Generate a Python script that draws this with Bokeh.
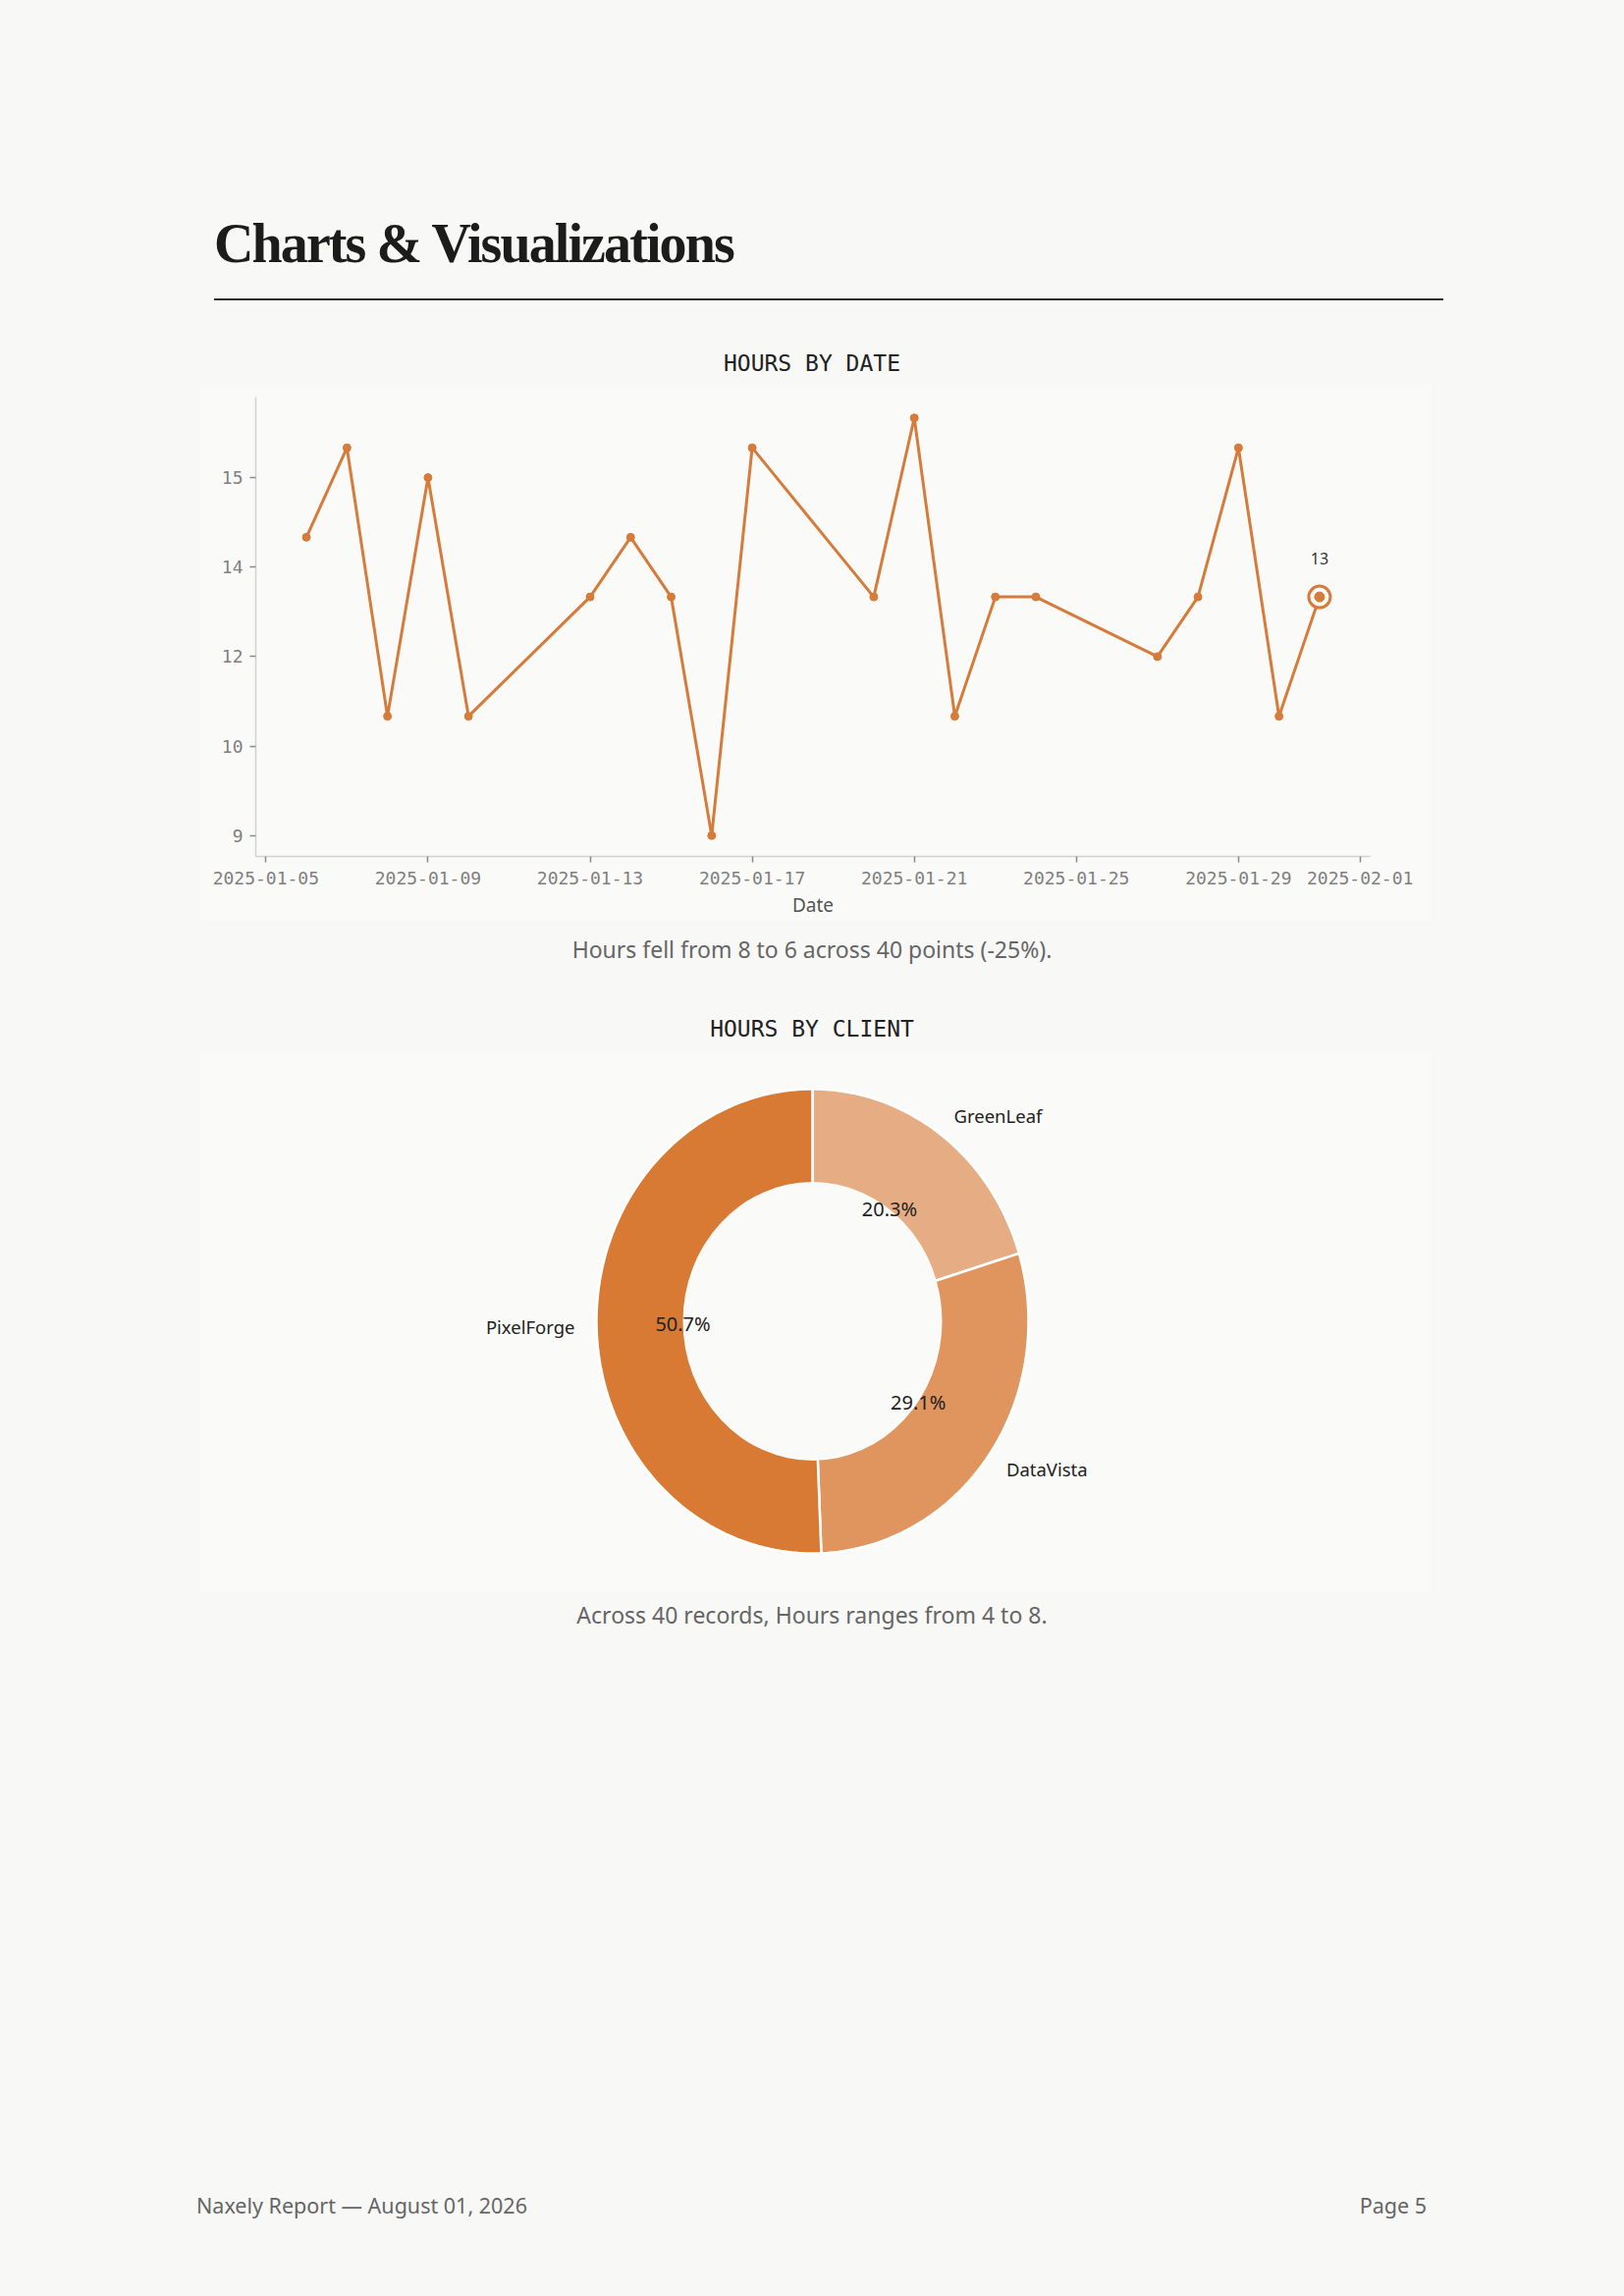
import numpy as np
import pandas as pd
from bokeh.plotting import figure
from bokeh.models import (Div, Spacer, FixedTicker, DatetimeTickFormatter, Range1d,
                          Label, ColumnDataSource)
from bokeh.layouts import column, row
from bokeh.embed import file_html
from bokeh.resources import INLINE
from bokeh.core.properties import value

# ---------------- data ----------------
dates = ["2025-01-06", "2025-01-07", "2025-01-08", "2025-01-09", "2025-01-10",
         "2025-01-13", "2025-01-14", "2025-01-15", "2025-01-16", "2025-01-17",
         "2025-01-20", "2025-01-21", "2025-01-22", "2025-01-23", "2025-01-24",
         "2025-01-27", "2025-01-28", "2025-01-29", "2025-01-30", "2025-01-31"]
hours = [14, 15.5, 11, 15, 11, 13, 14, 13, 9, 15.5,
         13, 16, 11, 13, 13, 12, 13, 15.5, 11, 13]
x_tick_dates = ["2025-01-05", "2025-01-09", "2025-01-13", "2025-01-17",
                "2025-01-21", "2025-01-25", "2025-01-29", "2025-02-01"]
y_ticks = [9, 10.5, 12, 13.5, 15]
y_tick_labels = ["9", "10", "12", "14", "15"]

clients = ["GreenLeaf", "DataVista", "PixelForge"]
client_share = [20.3, 29.1, 50.7]

page_title = "Charts &amp; Visualizations"
line_title = "HOURS BY DATE"
line_caption = "Hours fell from 8 to 6 across 40 points (-25%)."
donut_title = "HOURS BY CLIENT"
donut_caption = "Across 40 records, Hours ranges from 4 to 8."
footer_left = "Naxely Report — August 01, 2026"
footer_right = "Page 5"

# ---------------- style ----------------
PAGE = "#f8f8f6"
PANEL = "#fafaf8"
LINE = "#d67b3a"
client_colors = ["#e6ad84", "#e0955e", "#d97a34"]
SANS = "Noto Sans"
MONO = "DejaVu Sans Mono"
SERIF = "Liberation Serif"

W = 1646
CX = 827  # horizontal centre of the page


def block(txt, top, size, font, color, lh=30, left=None, right=None, center=False,
          extra=""):
    if center:
        pos = f"left:{CX - 500}px;width:1000px;text-align:center;"
    elif right is not None:
        pos = f"right:{right}px;text-align:right;"
    else:
        pos = f"left:{left}px;"
    return (f'<div style="position:absolute;{pos}top:{top}px;font-family:\'{font}\';'
            f'font-size:{size}px;line-height:{lh}px;color:{color};white-space:nowrap;{extra}">'
            f'{txt}</div>')


def wrap(h, inner):
    return f'<div style="position:relative;width:{W}px;height:{h}px;">{inner}</div>'


def mkdiv(h, inner):
    return Div(width=W, height=h, margin=0, text=wrap(h, inner),
               styles={"padding": "0", "margin": "0"})


# ---------------- header ----------------
h1 = 391
header = mkdiv(h1,
    block(page_title, 220, 56, SERIF, "#1c1c1c", lh=56, left=218,
          extra="font-weight:bold;letter-spacing:-1.9px;")
    + '<div style="position:absolute;left:218px;top:304px;width:1252px;height:2px;background:#2e2e2e;"></div>'
    + block(line_title, 355, 23, MONO, "#222222", center=True))

# ---------------- line chart ----------------
dt = pd.to_datetime(dates)
xpad = (dt.max() - dt.min()) * 0.05
ymin, ymax = min(hours), max(hours)
ypad = (ymax - ymin) * 0.05

LH = 546
src = ColumnDataSource(dict(date=dt, hours=hours))
p1 = figure(width=1253, height=LH, x_axis_type="datetime",
            x_range=Range1d(dt.min() - xpad, dt.max() + xpad),
            y_range=Range1d(ymin - ypad, ymax + ypad),
            output_backend="svg", toolbar_location=None, margin=0,
            min_border_left=56, min_border_right=62, min_border_top=13,
            min_border_bottom=65)
p1.background_fill_color = PANEL
p1.border_fill_color = PANEL
p1.outline_line_color = None
p1.grid.visible = False

p1.line(x="date", y="hours", source=src, line_color=LINE, line_width=3)
p1.scatter(x="date", y="hours", source=src, size=8, fill_color=LINE, line_color=LINE)

last_x = dt[-1].timestamp() * 1000
p1.scatter(x=[last_x], y=[hours[-1]], size=22, fill_color=PANEL, line_color=LINE,
           line_width=3)
p1.scatter(x=[last_x], y=[hours[-1]], size=10, fill_color=LINE, line_color=LINE)
p1.add_layout(Label(x=last_x, y=hours[-1], y_offset=39, text=f"{hours[-1]:g}",
                    text_align="center", text_baseline="middle",
                    text_font=SANS, text_font_size="16px", text_color="#333333"))

p1.xaxis.ticker = FixedTicker(ticks=[pd.Timestamp(d).timestamp() * 1000 for d in x_tick_dates])
fmt = "%Y-%m-%d"
p1.xaxis.formatter = DatetimeTickFormatter(hours=fmt, days=fmt, months=fmt, years=fmt)
p1.yaxis.ticker = FixedTicker(ticks=y_ticks)
p1.yaxis.major_label_overrides = {t: l for t, l in zip(y_ticks, y_tick_labels)}
p1.xaxis.axis_label = "Date"

for ax in (p1.xaxis, p1.yaxis):
    ax.axis_line_color = "#d2d2d0"
    ax.axis_line_width = 1.5
    ax.major_tick_line_color = "#8a8a8a"
    ax.major_tick_line_width = 1.5
    ax.major_tick_in = 0
    ax.major_tick_out = 6
    ax.minor_tick_line_color = None
    ax.major_label_text_font = MONO
    ax.major_label_text_font_size = "18px"
    ax.major_label_text_color = "#808080"
    ax.major_label_standoff = 7
p1.xaxis.major_label_standoff = 9
p1.xaxis.axis_label_text_font = SANS
p1.xaxis.axis_label_text_font_style = "normal"
p1.xaxis.axis_label_text_font_size = "19px"
p1.xaxis.axis_label_text_color = "#555555"
p1.xaxis.axis_label_standoff = 5

# ---------------- middle text ----------------
h2 = 134
mid = mkdiv(h2,
    block(line_caption, 15, 23, SANS, "#666666", center=True)
    + block(donut_title, 96, 23, MONO, "#222222", center=True))

# ---------------- donut ----------------
DW, DH = 1253, 552
p2 = figure(width=DW, height=DH, x_range=Range1d(0, DW), y_range=Range1d(0, DH),
            output_backend="svg", toolbar_location=None, min_border=0, margin=0)
p2.background_fill_color = PANEL
p2.border_fill_color = PANEL
p2.outline_line_color = None
p2.axis.visible = False
p2.grid.visible = False

cx, cy = 623.0, 277.5
Rx, Ry = 220.0, 236.5
hole = 0.6
total = float(sum(client_share))
cum = np.concatenate([[0.0], np.cumsum(client_share)]) / total * 2 * np.pi
xs, ys = [], []
for a0, a1 in zip(cum[:-1], cum[1:]):
    t = np.linspace(a0, a1, 120)
    xs.append([cx] + list(cx + Rx * np.sin(t)) + [cx])
    ys.append([cy] + list(cy + Ry * np.cos(t)) + [cy])
p2.patches(xs=xs, ys=ys, fill_color=client_colors, line_color="white", line_width=2.5)
p2.ellipse(x=[cx], y=[cy], width=2 * hole * Rx, height=2 * hole * Ry,
           fill_color=PANEL, line_color=None)

mids = (cum[:-1] + cum[1:]) / 2
lab = ColumnDataSource(dict(
    x=cx + 1.1 * Rx * np.sin(mids), y=cy + 1.1 * Ry * np.cos(mids), text=clients,
    align=["left" if np.sin(m) > 0 else "right" for m in mids]))
p2.text(x="x", y="y", text="text", text_align="align", text_baseline="middle",
        source=lab, text_font=value(SANS), text_font_size="18.5px", text_color="#222222")
pct = ColumnDataSource(dict(
    x=cx + hole * Rx * np.sin(mids), y=cy + hole * Ry * np.cos(mids),
    text=[f"{s:.1f}%" for s in client_share]))
p2.text(x="x", y="y", text="text", text_align="center", text_baseline="middle",
        source=pct, text_font=value(SANS), text_font_size="20px", text_color="#222222")

# ---------------- bottom text ----------------
h3 = 2330 - h1 - LH - h2 - DH
bottom = mkdiv(h3,
    block(donut_caption, 7, 23, SANS, "#666666", center=True)
    + block(footer_left, 609, 21.5, SANS, "#666666", left=200)
    + block(footer_right, 609, 21.5, SANS, "#666666", right=W - 1453))

root = column(header,
              row(Spacer(width=204, height=LH, margin=0), p1, margin=0),
              mid,
              row(Spacer(width=204, height=DH, margin=0), p2, margin=0),
              bottom, margin=0)

tmpl = ('{% block preamble %}<style>html, body { background: ' + PAGE +
        '; }</style>{% endblock %}')
html = file_html(root, INLINE, template=tmpl)
with open("out.html", "w") as f:
    f.write(html)
